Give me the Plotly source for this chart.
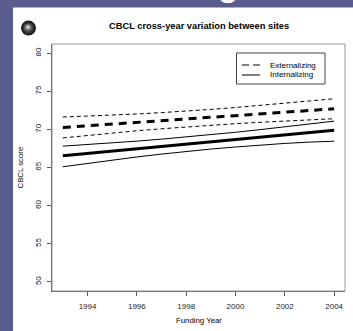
import plotly.graph_objects as go

years = [1993, 1994, 1995, 1996, 1997, 1998, 1999, 2000, 2001, 2002, 2003, 2004]
ext_mean = [70.25, 70.47, 70.70, 70.92, 71.14, 71.36, 71.59, 71.81, 72.03, 72.26, 72.48, 72.70]
ext_upper = [71.62, 71.73, 71.87, 72.02, 72.20, 72.39, 72.62, 72.87, 73.13, 73.43, 73.73, 74.02]
ext_lower = [68.88, 69.22, 69.53, 69.82, 70.08, 70.33, 70.56, 70.75, 70.93, 71.09, 71.23, 71.40]
int_mean = [66.55, 66.86, 67.17, 67.48, 67.78, 68.08, 68.38, 68.68, 68.98, 69.29, 69.59, 69.90]
int_upper = [67.80, 68.00, 68.22, 68.46, 68.72, 68.99, 69.29, 69.62, 69.97, 70.34, 70.72, 71.08]
int_lower = [65.10, 65.55, 65.98, 66.38, 66.76, 67.11, 67.42, 67.69, 67.94, 68.16, 68.33, 68.45]

x_ticks = [1994, 1996, 1998, 2000, 2002, 2004]
y_ticks = [50, 55, 60, 65, 70, 75, 80]

title_text = "CBCL cross-year variation between sites"
x_title = "Funding Year"
y_title = "CBCL score"
legend_labels = ["Externalizing", "Internalizing"]

FONT = "Liberation Sans, Arial, sans-serif"
W, H = 353, 331
L, R, T, B = 52, 8, 44, 40
PW, PH = W - L - R, H - T - B


def px(xp):
    return (xp - L) / PW


def py(yp):
    return (H - B - yp) / PH


fig = go.Figure()

series = [
    (ext_upper, dict(color="black", width=1, dash="4px,3px")),
    (ext_mean, dict(color="black", width=3, dash="8px,6px")),
    (ext_lower, dict(color="black", width=1, dash="4px,3px")),
    (int_upper, dict(color="black", width=1)),
    (int_mean, dict(color="black", width=3)),
    (int_lower, dict(color="black", width=1)),
]
for vals, ln in series:
    fig.add_trace(go.Scatter(x=years, y=vals, mode="lines", line=ln,
                             showlegend=False, hoverinfo="skip"))

blue = "#585c8f"
shapes = [
    dict(type="rect", xref="paper", yref="paper", x0=px(0), x1=px(13),
         y0=py(H), y1=py(0), fillcolor=blue, line=dict(width=0)),
    dict(type="rect", xref="paper", yref="paper", x0=px(0), x1=px(W),
         y0=py(7.5), y1=py(0), fillcolor=blue, line=dict(width=0)),
    dict(type="rect", xref="paper", yref="paper", x0=0, x1=1, y0=0, y1=1,
         line=dict(color="#999999", width=1)),
    dict(type="rect", xref="paper", yref="paper", x0=px(236.5), x1=px(325),
         y0=py(84), y1=py(53), line=dict(color="#444444", width=1),
         fillcolor="white"),
    dict(type="line", xref="paper", yref="paper", x0=px(242), x1=px(260),
         y0=py(65), y1=py(65), line=dict(color="black", width=1, dash="7px,4px")),
    dict(type="line", xref="paper", yref="paper", x0=px(242), x1=px(260),
         y0=py(75), y1=py(75), line=dict(color="black", width=1)),
]
cx, cy = px(28.5), py(28)
for r, col, dx, dy in [(7.5, "#1c1c1c", 0, 0), (5.5, "#3a3a3a", 0, 0),
                       (3.8, "#6a6a6a", -0.5, 0.5), (2.2, "#a8a8a8", -0.5, 0.8),
                       (1.0, "#e8e8e8", -0.5, 1.0)]:
    shapes.append(dict(type="circle", xref="paper", yref="paper",
                       xsizemode="pixel", ysizemode="pixel",
                       xanchor=cx, yanchor=cy,
                       x0=-r + dx, x1=r + dx, y0=-r + dy, y1=r + dy,
                       fillcolor=col, line=dict(width=0)))

annotations = [
    dict(text="<b>" + title_text + "</b>", x=px(198.5), y=py(26), xref="paper",
         yref="paper", showarrow=False, font=dict(family=FONT, size=9.3, color="black"),
         xanchor="center", yanchor="middle"),
    dict(text=x_title, x=px(198.5), y=py(320), xref="paper", yref="paper",
         showarrow=False, font=dict(family=FONT, size=7.8, color="black"),
         xanchor="center", yanchor="middle"),
    dict(text=y_title, x=px(20), y=py(167.5), xref="paper", yref="paper",
         showarrow=False, textangle=-90,
         font=dict(family=FONT, size=7.8, color="black"),
         xanchor="center", yanchor="middle"),
    dict(text=legend_labels[0], x=px(267.5), y=py(65), xref="paper", yref="paper",
         showarrow=False, font=dict(family=FONT, size=8, color="black"),
         xanchor="left", yanchor="middle"),
    dict(text=legend_labels[1], x=px(267.5), y=py(75), xref="paper", yref="paper",
         showarrow=False, font=dict(family=FONT, size=8, color="black"),
         xanchor="left", yanchor="middle"),
    dict(text="g", x=px(228), y=py(5), xref="paper", yref="paper",
         showarrow=False, font=dict(family=FONT, size=40, color="white"),
         xanchor="center", yanchor="bottom"),
]

axis_common = dict(showgrid=False, zeroline=False, showline=True,
                   linecolor="#555555", linewidth=1, ticks="outside", ticklen=4,
                   tickcolor="#555555", tickwidth=1, ticklabelstandoff=3,
                   tickfont=dict(family=FONT, size=8, color="#222222"))

fig.update_layout(
    width=W, height=H,
    margin=dict(l=L, r=R, t=T, b=B, pad=0),
    paper_bgcolor="white", plot_bgcolor="white",
    showlegend=False,
    xaxis=dict(range=[1992.56, 2004.44], tickvals=x_ticks, **axis_common),
    yaxis=dict(range=[48.8, 81.2], tickvals=y_ticks, tickangle=-90, **axis_common),
    shapes=shapes,
    annotations=annotations,
)

fig.write_html("out.html")
